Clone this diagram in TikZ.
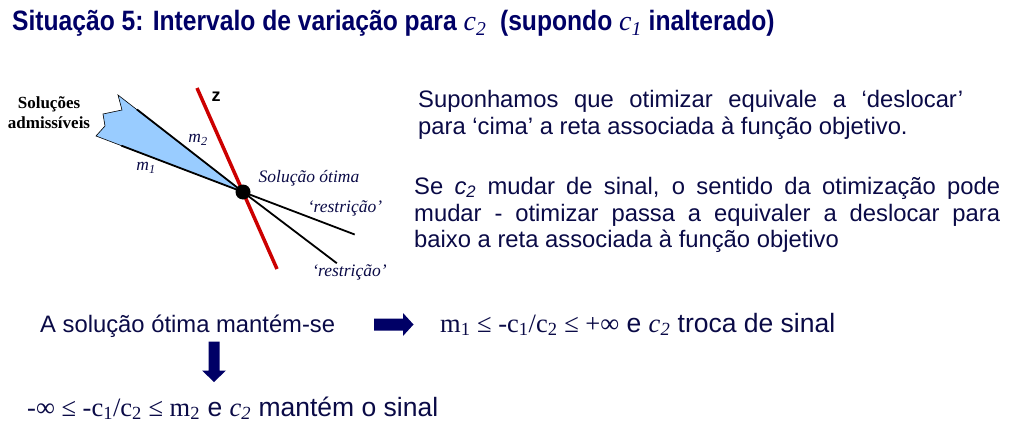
\documentclass[tikz,border=0pt]{standalone}
\usepackage{fontspec}
\setmainfont{Liberation Sans}
\newfontfamily\tnr{Liberation Serif}
\newfontfamily\titlef[FakeStretch=0.88]{Liberation Sans}
\definecolor{navy}{RGB}{0,0,102}
\definecolor{txtnavy}{RGB}{10,10,70}
\definecolor{solblue}{RGB}{153,204,255}
\definecolor{zred}{RGB}{204,0,0}
\newcommand\serifpart[1]{{\tnr\fontsize{26.5}{30}\selectfont #1}}
\tikzset{
  body/.style={anchor=base west, inner sep=0pt, text=txtnavy, font=\fontsize{23.8}{28}\selectfont},
  formula/.style={anchor=base west, inner sep=0pt, text=txtnavy, font=\fontsize{26.5}{30}\selectfont},
  lbl/.style={inner sep=0pt, text=txtnavy, font=\tnr\itshape\fontsize{17.5}{20}\selectfont},
  blk/.style={draw=black, line width=1.8pt},
  blockarrow/.style={fill=navy, draw=none},
}
\begin{document}
\begin{tikzpicture}[x=1pt,y=-1pt]
\useasboundingbox (0,0) rectangle (1013,444);

% title
\node[anchor=base west, inner sep=0pt, text=navy, font=\titlef\bfseries\fontsize{28}{32}\selectfont] (title) at (12,31)
  {Situação 5: Intervalo de variação para {\tnr\mdseries\itshape c\textsubscript{2}}\ \ (supondo {\tnr\mdseries\itshape c\textsubscript{1}} inalterado)};

% diagram
\coordinate (opt) at (243,192);
\coordinate (top) at (118,95);
\coordinate (m2s) at (137,109.5);
\coordinate (m1s) at (121.5,145.7);
\coordinate (bl) at (96,136);
\coordinate (r1) at (354.7,234.5);
\coordinate (r2) at (336.8,263.2);
\coordinate (zt) at (197,88);
\coordinate (zb) at (277,269);

\filldraw[fill=solblue, draw=black, line width=0.6pt] (top) -- (122,110) -- (103,114) -- (105,126) -- (bl) -- (opt) -- cycle;
\draw[blk] (m2s) -- (opt);
\draw[blk] (m1s) -- (opt);
\draw[blk] (opt) -- (r1);
\draw[blk] (opt) -- (r2);
\draw[zred, line width=3.5pt] (zt) -- (zb);
\node[circle, fill=black, minimum size=15pt, inner sep=0pt] (dot) at (opt) {};

\node[inner sep=0pt, align=center, font=\tnr\bfseries\fontsize{17}{20}\selectfont] (adm) at (49,113) {Soluções\\admissíveis};
\node[inner sep=0pt, font=\bfseries\fontsize{18}{20}\selectfont] (z) at (216,97) {z};
\node[lbl] (m2) at (198,140) {m\textsubscript{2}};
\node[lbl] (m1) at (146,168) {m\textsubscript{1}};
\node[lbl] (sol) at (309,178) {Solução ótima};
\node[lbl] (res1) at (345,208) {‘restrição’};
\node[lbl] (res2) at (349.5,272) {‘restrição’};

% right text
\node[body] (p1a) at (418,107) {\makebox[545pt][s]{Suponhamos que otimizar equivale a ‘deslocar’}};
\node[body] (p1b) at (418,134) {para ‘cima’ a reta associada à função objetivo.};
\node[body] (p2a) at (414,194) {\makebox[586pt][s]{Se \textit{c\textsubscript{2}} mudar de sinal, o sentido da otimização pode}};
\node[body] (p2b) at (414,221) {\makebox[586pt][s]{mudar - otimizar passa a equivaler a deslocar para}};
\node[body] (p2c) at (414,247) {baixo a reta associada à função objetivo};

% bottom
\node[body] (keep) at (40,332) {A solução ótima mantém-se};
\node[formula] (swap) at (440,332) {\serifpart{m\textsubscript{1} ≤ -c\textsubscript{1}/c\textsubscript{2} ≤ +∞} e \serifpart{\itshape c\textsubscript{2}} troca de sinal};
\node[formula] (same) at (27,416) {\serifpart{-∞ ≤ -c\textsubscript{1}/c\textsubscript{2} ≤ m\textsubscript{2}} e \serifpart{\itshape c\textsubscript{2}} mantém o sinal};

\fill[blockarrow] (374,318.5) -- (403,318.5) -- (403,313) -- (413.5,324.5) -- (403,336) -- (403,330.5) -- (374,330.5) -- cycle;
\fill[blockarrow] (208.5,341.5) -- (219.5,341.5) -- (219.5,370.5) -- (226,370.5) -- (214,382) -- (202,370.5) -- (208.5,370.5) -- cycle;
\end{tikzpicture}
\end{document}
